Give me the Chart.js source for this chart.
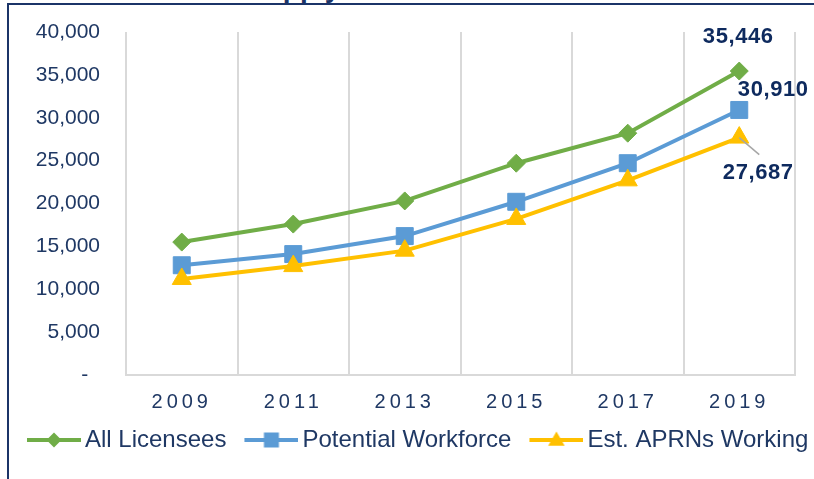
<!DOCTYPE html>
<html>
<head>
<meta charset="utf-8">
<script src="https://cdn.jsdelivr.net/npm/chart.js@4/dist/chart.umd.min.js"></script>
<style>
  html, body { margin: 0; padding: 0; background: #fff; overflow: hidden; }
  #title { position: absolute; left: 247px; top: -26px; font: bold 28px "Liberation Sans", Arial, sans-serif; line-height: 28px; color: #1B3468; white-space: nowrap; }
  #frame { position: absolute; left: 7px; top: 3px; width: 900px; height: 600px; border-left: 2px solid #1B3468; border-top: 2px solid #1B3468; }
  #wrap { position: absolute; left: 0; top: 0; width: 814px; height: 479px; }
</style>
</head>
<body>
<div id="title">Supply</div>
<div id="frame"></div>
<div id="wrap"><canvas id="chart"></canvas></div>
<script>
const years = ['2009', '2011', '2013', '2015', '2017', '2019'];
const allLicensees = [15500, 17600, 20300, 24700, 28200, 35446];
const potentialWorkforce = [12800, 14100, 16200, 20200, 24700, 30910];
const estAprnsWorking = [11200, 12700, 14500, 18200, 22700, 27687];
const seriesNames = ['All Licensees', 'Potential Workforce', 'Est. APRNs Working'];
const yMax = 40000;
const yStep = 5000;

const FONT = '"Liberation Sans", Arial, sans-serif';
const NAVY = '#1F3864';
const GREEN = '#70AD47';
const BLUE = '#5B9BD5';
const GOLD = '#FFC000';

// marker path drawn on the small legend icons
function markerPath(g, style, x, y, r) {
    g.beginPath();
    if (style === 'rectRot') {
        g.moveTo(x - r, y); g.lineTo(x, y - r); g.lineTo(x + r, y); g.lineTo(x, y + r);
    } else if (style === 'rect') {
        g.rect(x - r, y - r, 2 * r, 2 * r);
    } else {
        g.moveTo(x, y - r);
        g.lineTo(x + r * Math.sin(2 * Math.PI / 3), y - r * Math.cos(2 * Math.PI / 3));
        g.lineTo(x + r * Math.sin(4 * Math.PI / 3), y - r * Math.cos(4 * Math.PI / 3));
    }
    g.closePath();
    g.fill();
}

function legendIcon(color, style, r) {
    const c = document.createElement('canvas');
    c.width = 76;
    c.height = 24;
    const g = c.getContext('2d');
    g.strokeStyle = color;
    g.lineWidth = 4;
    g.beginPath();
    g.moveTo(22, 12);
    g.lineTo(76, 12);
    g.stroke();
    g.fillStyle = color;
    markerPath(g, style, 49, style === 'triangle' ? 13 : 12, r);
    return c;
}

const icons = [
    legendIcon(GREEN, 'rectRot', 7.5),
    legendIcon(BLUE, 'rect', 7.5),
    legendIcon(GOLD, 'triangle', 9.5)
];

function series(label, data, color, style, radius, order) {
    return {
        label: label,
        data: data,
        borderColor: color,
        backgroundColor: color,
        borderWidth: 4,
        pointStyle: style,
        pointRadius: radius,
        pointBorderWidth: 1,
        pointBackgroundColor: color,
        pointBorderColor: color,
        tension: 0,
        order: order
    };
}

// value labels on the 2019 points, placed relative to the point
const labelOffsets = [[-1, -34], [34, -20], [19, 35]];

const valueLabels = {
    id: 'valueLabels',
    beforeDraw(chart) {
        chart.ctx.letterSpacing = '0px';
    },
    afterDatasetsDraw(chart) {
        // x tick labels are drawn after this (ticks.z = 1), spaced out like the original
        chart.ctx.letterSpacing = '4px';
    },
    afterDraw(chart) {
        const ctx = chart.ctx;
        ctx.letterSpacing = '0px';
        ctx.save();
        chart.data.datasets.forEach((ds, i) => {
            const last = ds.data.length - 1;
            const pt = chart.getDatasetMeta(i).data[last];
            const [dx, dy] = labelOffsets[i];
            if (i === 2) {
                ctx.strokeStyle = '#A6A6A6';
                ctx.lineWidth = 1.5;
                ctx.beginPath();
                ctx.moveTo(pt.x, pt.y);
                ctx.lineTo(pt.x + dx + 1, pt.y + dy - 18);
                ctx.stroke();
            }
            ctx.letterSpacing = '0.6px';
            ctx.font = 'bold 22px ' + FONT;
            ctx.fillStyle = '#0E2A5E';
            ctx.textAlign = 'center';
            ctx.textBaseline = 'middle';
            ctx.fillText(ds.data[last].toLocaleString('en-US'), pt.x + dx, pt.y + dy);
        });
        ctx.restore();
        ctx.letterSpacing = '0px';
    }
};

new Chart(document.getElementById('chart'), {
    type: 'line',
    data: {
        labels: years,
        datasets: [
            series(seriesNames[0], allLicensees, GREEN, 'rectRot', 9, 3),
            series(seriesNames[1], potentialWorkforce, BLUE, 'rect', 12, 2),
            series(seriesNames[2], estAprnsWorking, GOLD, 'triangle', 11, 1)
        ]
    },
    options: {
        responsive: true,
        maintainAspectRatio: false,
        animation: false,
        layout: { padding: { top: 32, left: 9, right: 0, bottom: 17 } },
        scales: {
            x: {
                offset: true,
                grid: { offset: true, color: '#D9D9D9', lineWidth: 2, drawTicks: false },
                border: { display: true, color: '#D9D9D9', width: 2 },
                ticks: { padding: 15, z: 1, color: NAVY, font: { size: 20, family: FONT } },
                afterFit(scale) {
                    scale.height = 49;
                    scale.paddingLeft = 0;
                    scale.paddingRight = 19;
                }
            },
            y: {
                min: 0,
                max: yMax,
                grid: { display: false, drawTicks: false },
                border: { display: false },
                ticks: {
                    stepSize: yStep,
                    padding: 26,
                    color: NAVY,
                    font: { size: 21, family: FONT },
                    callback: v => v === 0 ? '-  ' : v.toLocaleString('en-US')
                },
                afterFit(scale) {
                    scale.width = 117;
                    scale.paddingTop = 0;
                    scale.paddingBottom = 0;
                }
            }
        },
        plugins: {
            legend: {
                position: 'bottom',
                align: 'start',
                labels: {
                    usePointStyle: true,
                    pointStyleWidth: 60,
                    padding: 4,
                    color: NAVY,
                    font: { size: 24, family: FONT },
                    sort: (a, b) => a.datasetIndex - b.datasetIndex,
                    generateLabels(chart) {
                        const items = Chart.defaults.plugins.legend.labels.generateLabels(chart);
                        items.forEach(it => { it.pointStyle = icons[it.datasetIndex]; });
                        return items;
                    }
                }
            },
            tooltip: { enabled: false }
        }
    },
    plugins: [valueLabels]
});
</script>
</body>
</html>
